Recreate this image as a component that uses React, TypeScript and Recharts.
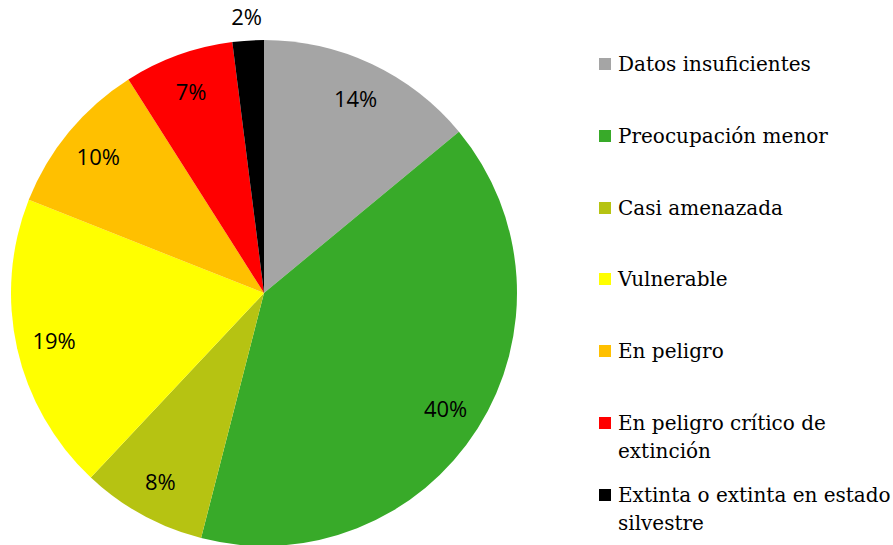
import React from 'react';
import { PieChart, Pie, Cell, Legend } from 'recharts';

const categories = [
  'Datos insuficientes',
  'Preocupación menor',
  'Casi amenazada',
  'Vulnerable',
  'En peligro',
  'En peligro crítico de|extinción',
  'Extinta o extinta en estado|silvestre',
];
const values = [14, 40, 8, 19, 10, 7, 2];
const colors = ['#A5A5A5', '#38AA29', '#B6C312', '#FFFF00', '#FFC000', '#FF0000', '#000000'];

const data = categories.map((name, i) => ({ name, value: values[i] }));
const total = values.reduce((a, b) => a + b, 0);

const RADIAN = Math.PI / 180;

const renderLabel = (props: any) => {
  const { cx, cy, midAngle, outerRadius, value } = props;
  const share = value / total;
  // small slices get their label outside the pie
  const r = share < 0.05 ? outerRadius + 25 : outerRadius * 0.85;
  const x = cx + r * Math.cos(-midAngle * RADIAN);
  const y = cy + r * Math.sin(-midAngle * RADIAN);
  return (
    <text
      x={x}
      y={y}
      fill="#000"
      textAnchor="middle"
      dominantBaseline="central"
      style={{ fontFamily: '"Open Sans", sans-serif', fontSize: 22 }}
    >
      {`${Math.round(share * 100)}%`}
    </text>
  );
};

const CustomLegend = () => (
  <div style={{ position: 'relative', fontFamily: '"DejaVu Serif", serif', fontSize: 20, color: '#000' }}>
    {data.map((entry, index) => (
      <div
        key={`legend-${index}`}
        style={{ display: 'flex', alignItems: 'flex-start', height: 71.8, lineHeight: '28px' }}
      >
        <span
          style={{
            display: 'inline-block',
            width: 12,
            height: 12,
            marginTop: 8,
            marginRight: 7,
            background: colors[index],
            flexShrink: 0,
          }}
        />
        <span>
          {entry.name.split('|').map((line, j) => (
            <div key={j} style={{ whiteSpace: 'nowrap' }}>{line}</div>
          ))}
        </span>
      </div>
    ))}
  </div>
);

const App = () => {
  return (
    <div style={{ position: 'absolute', left: 0, top: 0, background: '#fff' }}>
      <PieChart width={893} height={545} margin={{ top: 0, right: 0, bottom: 0, left: 0 }}>
        <Pie
          data={data}
          dataKey="value"
          nameKey="name"
          cx={264}
          cy={293}
          outerRadius={253}
          startAngle={90}
          endAngle={-270}
          stroke="none"
          label={renderLabel}
          labelLine={false}
          isAnimationActive={false}
        >
          {data.map((entry, index) => (
            <Cell key={`cell-${index}`} fill={colors[index]} />
          ))}
        </Pie>
        <Legend
          content={<CustomLegend />}
          wrapperStyle={{ position: 'absolute', left: 599, top: 50, width: 294 }}
        />
      </PieChart>
    </div>
  );
};

export default App;
